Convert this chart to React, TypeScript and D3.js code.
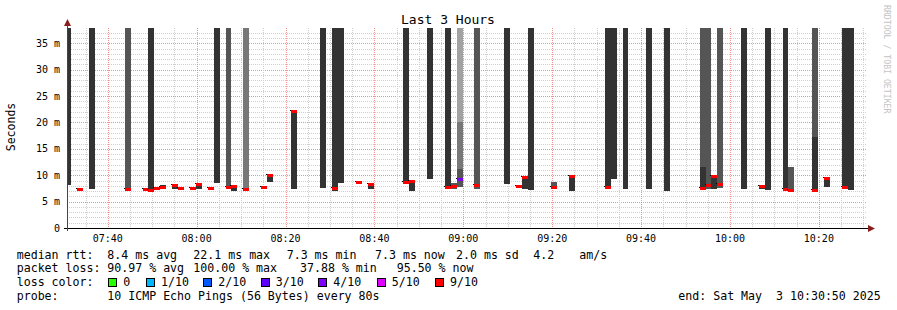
import React from 'react';
import * as d3 from 'd3';

// ---------- data ----------
const DAY = '2025-05-03';
const START = '07:30:50';
const END = '10:30:50';
const STEP_SECONDS = 80;
const Y_MAX = 37.9; // ms at top of plot

// smoke bands: bin start, from (ms), to (ms, null = above scale), shade level
const SMOKE_TIME = [
  '07:30:30', '07:35:50', '07:43:50', '07:49:10', '07:50:30', '07:51:50', '07:54:30', '07:59:50',
  '08:03:50', '08:06:30', '08:07:50', '08:10:30', '08:14:30', '08:15:50', '08:21:10', '08:27:50',
  '08:30:30', '08:31:50', '08:35:50', '08:38:30', '08:46:30', '08:47:50', '08:51:50', '08:55:50',
  '08:57:10', '08:58:30', '08:58:30', '08:58:30', '09:02:30', '09:09:10', '09:13:10', '09:14:30',
  '09:19:50', '09:23:50', '09:31:50', '09:33:10', '09:35:50', '09:41:10', '09:45:10', '09:53:10',
  '09:53:10', '09:54:30', '09:55:50', '09:57:10', '10:02:30', '10:06:30', '10:07:50', '10:11:50',
  '10:13:10', '10:18:30', '10:18:30', '10:21:10', '10:25:10', '10:26:30',
];
const SMOKE_FROM = [
  8.2, 7.4, 7.1, 7.0, 7.2, 7.3, 7.4, 7.4,
  8.5, 7.55, 7.1, 7.1, 7.4, 8.7, 7.3, 7.6,
  7.1, 8.5, 8.4, 7.4, 8.5, 7.1, 9.25, 7.55,
  7.4, 7.8, 11.1, 20.1, 7.4, 8.4, 7.4, 7.2,
  7.4, 7.1, 7.55, 9.25, 7.4, 7.4, 7.1, 7.3,
  11.5, 7.4, 7.4, 7.55, 7.4, 7.4, 7.2, 7.4,
  7.1, 7.1, 17.3, 7.75, 7.55, 7.2,
];
const SMOKE_TO: (number | null)[] = [
  null, null, null, null, 7.6, 8.1, 8.1, 8.25,
  null, null, 7.9, null, 7.7, 9.95, 22.1, null,
  null, null, 8.6, 8.3, null, 8.95, null, null,
  8.45, 11.1, 20.1, null, null, null, 9.65, null,
  8.8, 9.8, null, null, null, null, null, 11.5,
  null, null, 9.95, null, null, 8.0, null, null,
  11.5, 17.3, null, 9.45, null, null,
];
const SMOKE_LEVEL = [
  1, 1, 2, 1, 1, 1, 1, 1,
  1, 2, 1, 3, 1, 1, 1, 1,
  1, 1, 1, 1, 1, 1, 1, 1,
  2, 2, 3, 4, 2, 1, 1, 1,
  2, 1, 1, 1, 1, 1, 1, 1,
  2, 2, 1, 2, 1, 1, 1, 1,
  2, 1, 2, 1, 1, 1,
];

// median rtt per bin and number of lost pings (of 10)
const MEDIAN_TIME = [
  '07:33:10', '07:43:50', '07:47:50', '07:49:10', '07:50:30', '07:51:50', '07:54:30', '07:55:50',
  '07:58:30', '07:59:50', '08:02:30', '08:06:30', '08:07:50', '08:10:30', '08:14:30', '08:15:50',
  '08:21:10', '08:30:30', '08:35:50', '08:38:30', '08:46:30', '08:47:50', '08:55:50', '08:57:10',
  '08:58:30', '09:02:30', '09:11:50', '09:13:10', '09:19:50', '09:23:50', '09:31:50', '09:53:10',
  '09:54:30', '09:55:50', '09:57:10', '10:06:30', '10:11:50', '10:13:10', '10:18:30', '10:21:10',
  '10:25:10',
];
const MEDIAN_RTT = [
  7.3, 7.35, 7.35, 7.2, 7.6, 7.65, 8.1, 7.6,
  7.45, 8.25, 7.45, 7.75, 7.9, 7.3, 7.7, 9.95,
  22.1, 7.45, 8.6, 8.3, 8.7, 8.95, 7.75, 7.9,
  9.2, 8.2, 7.85, 9.65, 7.75, 9.8, 7.75, 7.45,
  8.2, 9.9, 8.3, 8.0, 7.4, 7.2, 7.2, 9.35,
  7.75,
];
const MEDIAN_LOSS = [
  9, 9, 9, 9, 9, 9, 9, 9,
  9, 9, 9, 9, 9, 9, 9, 9,
  9, 9, 9, 9, 9, 9, 9, 9,
  4, 9, 9, 9, 9, 9, 9, 9,
  9, 9, 9, 9, 9, 9, 9, 9,
  9,
];

const Y_TICKS = [0, 5, 10, 15, 20, 25, 30, 35];
const X_TICK_LABELS = ['07:40', '08:00', '08:20', '08:40', '09:00', '09:20', '09:40', '10:00', '10:20'];

const LOSS_LEVELS = [0, 1, 2, 3, 4, 5, 9];
const LOSS_LABELS = ['0', '1/10', '2/10', '3/10', '4/10', '5/10', '9/10'];
const LOSS_COLORS = ['#26ff00', '#00b8ff', '#0059ff', '#5e00ff', '#7e00ff', '#dd00ff', '#ff0000'];

const TITLE = 'Last 3 Hours';
const Y_LABEL = 'Seconds';
const RTT_STATS = ['median rtt:', '8.4 ms avg', '22.1 ms max', '7.3 ms min', '7.3 ms now', '2.0 ms sd', '4.2', 'am/s'];
const LOSS_STATS = ['packet loss:', '90.97 % avg', '100.00 % max', '37.88 % min', '95.50 % now'];
const PROBE = ['probe:', '10 ICMP Echo Pings (56 Bytes) every 80s'];
const END_TEXT = 'end: Sat May  3 10:30:50 2025';
const WATERMARK = 'RRDTOOL / TOBI OETIKER';

// ---------- layout ----------
const W = 897;
const H = 310;
const PL = 67;
const PR = 867;
const PT = 28;
const PB = 228;
const MONO = '"DejaVu Sans Mono", monospace';
const SHADES: Record<number, string> = { 1: '#333333', 2: '#555555', 3: '#787878', 4: '#a2a2a2' };
const RTT_X = [16.7, 107.3, 193.3, 286.7, 375, 456, 533.3, 579.3];
const LOSS_X = [16.7, 107.3, 193.3, 300, 396.7];
const LEGEND_BOX_X = [108.3, 146, 203.3, 260.7, 318.3, 376.7, 435];
const ROW_Y = [258.5, 272, 286, 299.5];

const parse = d3.timeParse('%Y-%m-%d %H:%M:%S');
const at = (hms: string) => parse(`${DAY} ${hms}`) as Date;

export default function App() {
  const x = d3.scaleTime().domain([at(START), at(END)]).range([PL, PR]);
  const y = d3.scaleLinear().domain([0, Y_MAX]).range([PB, PT]);

  const minorX = d3.timeMinute.every(5)!.range(at(START), at(END));
  const minorY = d3.range(1, Math.floor(Y_MAX) + 1);

  const binEdges = (t: string) => {
    const t0 = at(t);
    const t1 = d3.timeSecond.offset(t0, STEP_SECONDS);
    return [Math.max(PL, Math.round(x(t0))), Math.min(PR, Math.round(x(t1)))];
  };

  return (
    <div style={{ position: 'absolute', left: 0, top: 0 }}>
      <svg width={W} height={H} style={{ display: 'block', background: '#fff' }} fontFamily={MONO}>
        <rect x={0} y={0} width={W} height={H} fill="#ffffff" />
        {/* grid */}
        <g shapeRendering="crispEdges">
          {minorY.map((v) => (
            <line key={'hy' + v} x1={PL} x2={PR} y1={Math.round(y(v)) + 0.5} y2={Math.round(y(v)) + 0.5}
              stroke={v % 5 === 0 ? 'rgba(240,110,110,0.75)' : '#cfcfcf'} strokeDasharray="1,1" />
          ))}
          {minorX.map((d) => {
            const major = d.getMinutes() % 20 === 0;
            const xx = Math.round(x(d)) + 0.5;
            return (
              <line key={'vx' + d.getTime()} x1={xx} x2={xx} y1={PT} y2={PB}
                stroke={major ? 'rgba(240,110,110,0.75)' : '#cfcfcf'} strokeDasharray="1,1" />
            );
          })}
        </g>
        {/* smoke */}
        <g shapeRendering="crispEdges">
          {SMOKE_TIME.map((t, i) => {
            const [x0, x1] = binEdges(t);
            const hi = SMOKE_TO[i] == null ? Y_MAX : Math.min(SMOKE_TO[i] as number, Y_MAX);
            const y0 = Math.round(y(hi));
            const y1 = Math.round(y(SMOKE_FROM[i]));
            return <rect key={'s' + i} x={x0} y={y0} width={x1 - x0} height={Math.max(1, y1 - y0)} fill={SHADES[SMOKE_LEVEL[i]]} />;
          })}
        </g>
        {/* median */}
        <g shapeRendering="crispEdges">
          {MEDIAN_TIME.map((t, i) => {
            const [x0, x1] = binEdges(t);
            const ym = y(MEDIAN_RTT[i]);
            const color = LOSS_COLORS[LOSS_LEVELS.indexOf(MEDIAN_LOSS[i])];
            return (
              <g key={'m' + i}>
                <rect x={x0 - 1} y={Math.round(ym - 1.2)} width={1} height={1} fill="#000" />
                <rect x={x0} y={Math.round(ym - 1.2)} width={x1 - x0} height={3} fill={color} />
              </g>
            );
          })}
        </g>
        {/* axes */}
        <g shapeRendering="crispEdges">
          <line x1={PL - 3} x2={PR + 2} y1={PB + 0.5} y2={PB + 0.5} stroke="#000" />
          <line x1={PL + 0.5} x2={PL + 0.5} y1={PB + 3} y2={PT - 4} stroke="#444" />
        </g>
        <polygon points={`${PL - 3},${PT - 2} ${PL + 4},${PT - 2} ${PL + 0.5},${PT - 9}`} fill="#8b1c1c" />
        <polygon points={`${PR + 1},${PB - 3} ${PR + 1},${PB + 4} ${PR + 8},${PB + 0.5}`} fill="#8b1c1c" />
        {/* y tick labels */}
        {Y_TICKS.map((v) => (
          <text key={'yl' + v} x={60} y={y(v)} dy="0.35em" textAnchor="end" fontSize={10} fill="#000" xmlSpace="preserve">
            {v === 0 ? '0' : `${v} m`}
          </text>
        ))}
        {/* x tick labels */}
        {X_TICK_LABELS.map((l) => (
          <text key={'xl' + l} x={x(at(l + ':00'))} y={241.5} textAnchor="middle" fontSize={10} fill="#000">{l}</text>
        ))}
        {/* title & labels */}
        <text x={448} y={24} textAnchor="middle" fontSize={13} fill="#000">{TITLE}</text>
        <text transform="translate(15,127) rotate(-90)" textAnchor="middle" fontSize={11.5} fill="#000">{Y_LABEL}</text>
        <text transform="translate(884,5) rotate(90)" textAnchor="start" fontSize={8.2} fill="#c4c4c4">{WATERMARK}</text>
        {/* legend rows */}
        <g fontSize={11.6} fill="#000">
          {RTT_STATS.map((s, i) => (
            <text key={'r' + i} x={RTT_X[i]} y={ROW_Y[0]} xmlSpace="preserve">{s}</text>
          ))}
          {LOSS_STATS.map((s, i) => (
            <text key={'l' + i} x={LOSS_X[i]} y={ROW_Y[1]} xmlSpace="preserve">{s}</text>
          ))}
          <text x={16.7} y={ROW_Y[2]}>loss color:</text>
          {LOSS_LABELS.map((l, i) => (
            <g key={'lc' + i}>
              <rect x={Math.round(LEGEND_BOX_X[i]) + 0.5} y={ROW_Y[2] - 7.5} width={8} height={8} fill={LOSS_COLORS[i]} stroke="#000" strokeWidth={1} shapeRendering="crispEdges" />
              <text x={LEGEND_BOX_X[i] + 15} y={ROW_Y[2]}>{l}</text>
            </g>
          ))}
          <text x={16.7} y={ROW_Y[3]}>{PROBE[0]}</text>
          <text x={107.3} y={ROW_Y[3]} xmlSpace="preserve">{PROBE[1]}</text>
          <text x={678.3} y={ROW_Y[3]} xmlSpace="preserve">{END_TEXT}</text>
        </g>
      </svg>
    </div>
  );
}
